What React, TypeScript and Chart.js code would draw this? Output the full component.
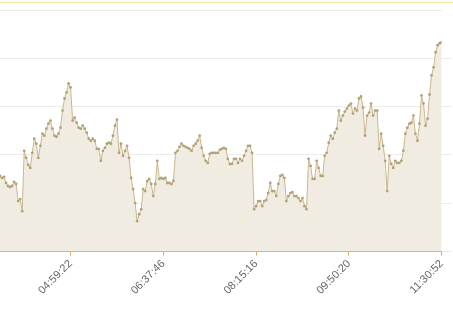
import React, { useEffect, useRef } from 'react';
import { Chart, registerables } from 'chart.js';

Chart.register(...registerables);

const values: number[] = [
  75, 73, 74, 68, 65, 64, 65, 69, 67, 50,
  52, 40, 100, 93, 86, 83, 98, 112, 107, 93,
  105, 117, 115, 122, 127, 130, 122, 115, 114, 117,
  123, 140, 152, 158, 167, 163, 130, 133, 128, 123,
  122, 125, 122, 118, 112, 110, 112, 110, 102, 102,
  90, 100, 103, 107, 108, 107, 115, 125, 131, 98,
  107, 95, 100, 105, 93, 73, 62, 48, 30, 37,
  42, 62, 60, 70, 72, 67, 55, 67, 90, 72,
  73, 72, 73, 68, 68, 67, 70, 98, 100, 104,
  107, 105, 104, 103, 102, 100, 105, 107, 110, 115,
  103, 95, 90, 88, 97, 98, 98, 98, 98, 101,
  102, 103, 102, 92, 87, 87, 92, 92, 88, 92,
  90, 95, 100, 105, 105, 98, 42, 45, 50, 50,
  45, 50, 51, 58, 68, 60, 60, 55, 67, 75,
  76, 73, 50, 55, 58, 59, 55, 55, 53, 50,
  53, 45, 42, 92, 85, 72, 72, 90, 83, 75,
  75, 95, 98, 108, 115, 112, 118, 122, 140, 130,
  135, 139, 142, 145, 147, 137, 142, 140, 152, 154,
  143, 115, 135, 138, 147, 135, 140, 140, 102, 117,
  105, 90, 60, 95, 87, 83, 90, 88, 88, 90,
  100, 117, 123, 127, 128, 135, 117, 110, 127, 155,
  147, 125, 132, 156, 175, 183, 198, 205, 207, 208,
];

const tickIndices: number[] = [35, 81, 127, 173, 219];
const tickLabels: string[] = ['04:59:22', '06:37:46', '08:15:16', '09:50:20', '11:30:52'];

const yMin = 0;
const yMax = 240;
const yStep = 48;

export default function App() {
  const ref = useRef<HTMLCanvasElement>(null);

  useEffect(() => {
    document.body.style.margin = '0';
    const canvas = ref.current;
    if (!canvas) return;
    const chart = new Chart(canvas, {
      type: 'line',
      data: {
        datasets: [
          {
            data: values.map((v, i) => ({ x: i, y: v })),
            borderColor: '#c9b78f',
            borderWidth: 1,
            backgroundColor: '#f1ece2',
            fill: 'origin',
            pointRadius: 1.4,
            pointBorderWidth: 0,
            pointBackgroundColor: '#b3a276',
            tension: 0,
          },
        ],
      },
      options: {
        animation: false,
        responsive: false,
        maintainAspectRatio: false,
        layout: { autoPadding: false, padding: { top: 10, bottom: 13, left: 0, right: 0 } },
        plugins: { legend: { display: false }, tooltip: { enabled: false } },
        scales: {
          x: {
            type: 'linear',
            min: 0,
            max: values.length - 1,
            afterBuildTicks: (scale: any) => {
              scale.ticks = tickIndices.map((v) => ({ value: v }));
            },
            ticks: {
              autoSkip: false,
              minRotation: 45,
              maxRotation: 45,
              padding: 2,
              color: '#666666',
              font: { size: 11 },
              callback: (v: any) => {
                const k = tickIndices.indexOf(Number(v));
                return k >= 0 ? tickLabels[k] : '';
              },
            },
            grid: { drawOnChartArea: false, drawTicks: true, tickLength: 4, color: '#d6ad72' },
            border: { display: true, color: '#d6ad72', width: 1 },
          },
          y: {
            position: 'right',
            min: yMin,
            max: yMax,
            ticks: { stepSize: yStep, display: false },
            grid: {
              color: '#ebebeb',
              tickLength: 10,
              tickColor: (ctx: any) => (ctx.tick && ctx.tick.value === yMax ? 'rgba(0,0,0,0)' : '#ebebeb'),
            },
            border: { display: false },
          },
        },
      },
    });
    return () => chart.destroy();
  }, []);

  return (
    <div style={{ position: 'absolute', left: 0, top: 0, width: 453, height: 312, background: '#ffffff' }}>
      <div style={{ position: 'absolute', left: 0, top: 2, width: 453, height: 1, background: '#f7e7a0' }} />
      <canvas ref={ref} width={453} height={312} style={{ display: 'block', width: 453, height: 312 }} />
    </div>
  );
}
